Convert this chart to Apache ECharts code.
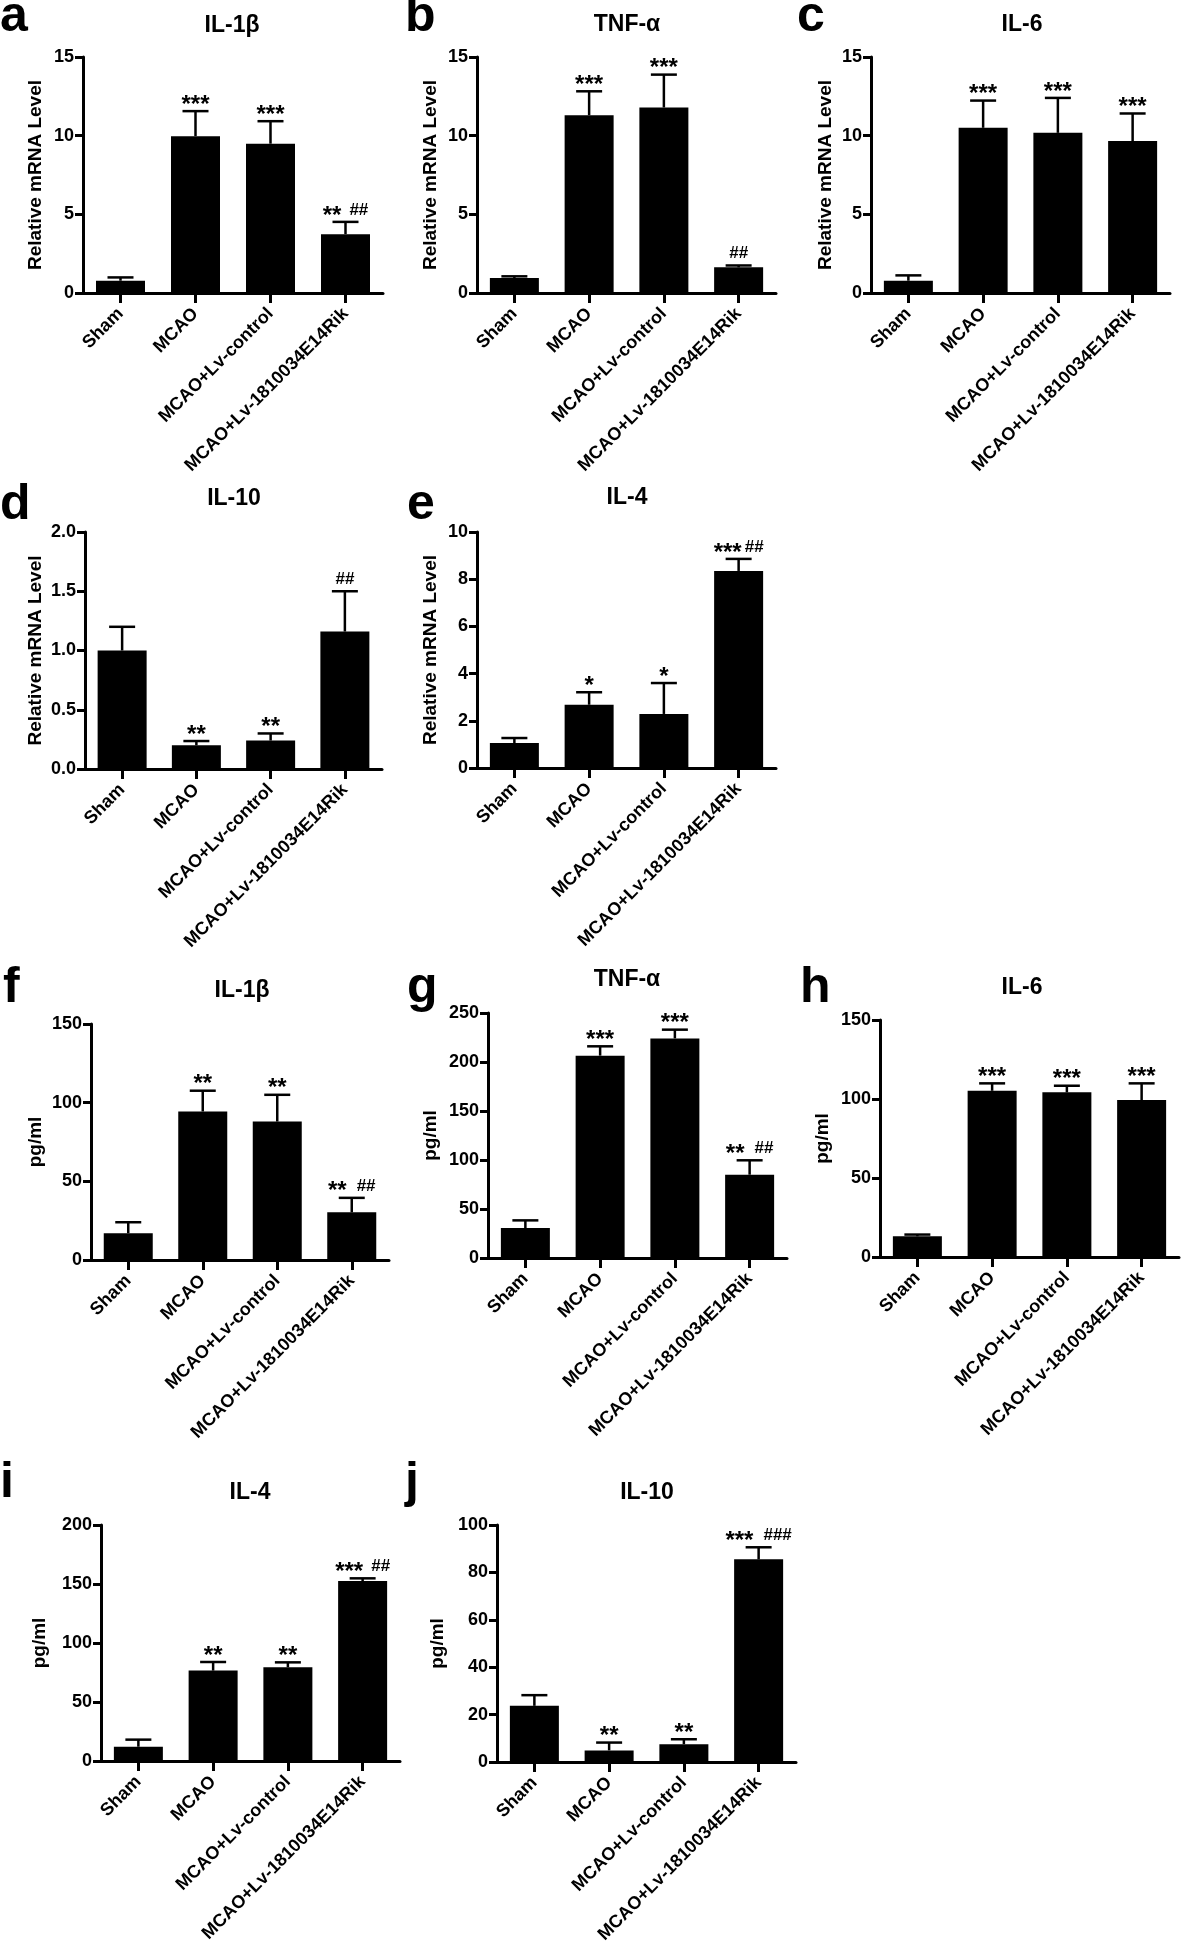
<!DOCTYPE html>
<html>
<head>
<meta charset="utf-8">
<script src="https://cdn.jsdelivr.net/npm/echarts@6/dist/echarts.min.js"></script>
<style>
html,body{margin:0;padding:0;background:#fff;}
#chart{width:1181px;height:1941px;}
</style>
</head>
<body>
<div id="chart"></div>
<script>
// ---------- DATA ----------
const categories = ['Sham', 'MCAO', 'MCAO+Lv-control', 'MCAO+Lv-1810034E14Rik'];
const panelLetters = ['a', 'b', 'c', 'd', 'e', 'f', 'g', 'h', 'i', 'j'];
const panelTitles = ['IL-1β', 'TNF-α', 'IL-6', 'IL-10', 'IL-4', 'IL-1β', 'TNF-α', 'IL-6', 'IL-4', 'IL-10'];
const yAxisNames = ['Relative mRNA Level', 'Relative mRNA Level', 'Relative mRNA Level', 'Relative mRNA Level', 'Relative mRNA Level',
                    'pg/ml', 'pg/ml', 'pg/ml', 'pg/ml', 'pg/ml'];
const yMax  = [15, 15, 15, 2.0, 10, 150, 250, 150, 200, 100];
const yStep = [5, 5, 5, 0.5, 2, 50, 50, 50, 50, 20];
const yDecimals = [0, 0, 0, 1, 0, 0, 0, 0, 0, 0];

// a: IL-1β mRNA
const meanA = [0.78, 9.97, 9.49, 3.74];
const errA  = [0.21, 1.59, 1.43, 0.78];
const starsA = ['', '***', '***', '**'];
const hashA  = ['', '', '', '##'];
// b: TNF-α mRNA
const meanB = [0.95, 11.3, 11.79, 1.63];
const errB  = [0.11, 1.52, 2.09, 0.12];
const starsB = ['', '***', '***', ''];
const hashB  = ['', '', '', '##'];
// c: IL-6 mRNA
const meanC = [0.78, 10.5, 10.18, 9.66];
const errC  = [0.34, 1.73, 2.22, 1.75];
const starsC = ['', '***', '***', '***'];
const hashC  = ['', '', '', ''];
// d: IL-10 mRNA
const meanD = [1.0, 0.2, 0.24, 1.16];
const errD  = [0.2, 0.036, 0.06, 0.34];
const starsD = ['', '**', '**', ''];
const hashD  = ['', '', '', '##'];
// e: IL-4 mRNA
const meanE = [1.06, 2.68, 2.29, 8.35];
const errE  = [0.21, 0.53, 1.31, 0.51];
const starsE = ['', '*', '*', '***'];
const hashE  = ['', '', '', '##'];
// f: IL-1β pg/ml
const meanF = [17.0, 94.4, 88.0, 30.3];
const errF  = [7.0, 13.2, 17.0, 9.2];
const starsF = ['', '**', '**', '**'];
const hashF  = ['', '', '', '##'];
// g: TNF-α pg/ml
const meanG = [30.6, 206.5, 224.1, 85.0];
const errG  = [7.8, 9.5, 8.9, 14.7];
const starsG = ['', '***', '***', '**'];
const hashG  = ['', '', '', '##'];
// h: IL-6 pg/ml
const meanH = [13.1, 105.2, 104.2, 99.3];
const errH  = [1.1, 4.7, 4.2, 10.6];
const starsH = ['', '***', '***', '***'];
const hashH  = ['', '', '', ''];
// i: IL-4 pg/ml
const meanI = [12.1, 76.6, 79.4, 152.5];
const errI  = [6.0, 7.3, 4.2, 2.3];
const starsI = ['', '**', '**', '***'];
const hashI  = ['', '', '', '##'];
// j: IL-10 pg/ml
const meanJ = [23.7, 4.9, 7.5, 85.5];
const errJ  = [4.5, 3.3, 2.1, 5.1];
const starsJ = ['', '**', '**', '***'];
const hashJ  = ['', '', '', '###'];

const means  = [meanA, meanB, meanC, meanD, meanE, meanF, meanG, meanH, meanI, meanJ];
const errs   = [errA, errB, errC, errD, errE, errF, errG, errH, errI, errJ];
const starsL = [starsA, starsB, starsC, starsD, starsE, starsF, starsG, starsH, starsI, starsJ];
const hashL  = [hashA, hashB, hashC, hashD, hashE, hashF, hashG, hashH, hashI, hashJ];

// ---------- LAYOUT ----------
const gridBox = [
  [83, 57, 300, 236], [477, 57, 299, 236], [871, 57, 299, 236],
  [85, 532, 297, 237], [477, 532, 299, 236],
  [91, 1024, 298, 236], [488, 1013, 299, 245], [880, 1020, 299, 237],
  [101, 1525, 299, 236], [497, 1525, 299, 237]
];
const nameGaps = [38, 37, 36, 40, 37, 46, 48, 48, 52, 50];
const sigGaps = [8, 8, 8, 8, 3, 10, 10, 10, 8, 10];
const titlePos = [[232, 34], [627, 33], [1022, 33], [234, 507], [627, 506], [242, 999], [627, 988], [1022, 996], [250, 1501], [647, 1501]];
const letterPos = [[0, 35], [405, 35], [797, 35], [0, 523], [407, 523], [3, 1006], [407, 1006], [800, 1006], [0, 1501], [405, 1501]];

const FONT = "'Liberation Sans', Arial, Helvetica, sans-serif";
const STAR_SIZE = 24, HASH_SIZE = 17;
const STAR_W = 0.389 * STAR_SIZE, HASH_W = 0.556 * HASH_SIZE;

function makeRender(stars, hashes, gapPx) {
  return function (params, api) {
    const i = params.dataIndex;
    const idx = api.value(0), m = api.value(1), e = api.value(2);
    const p0 = api.coord([idx, m]);
    const p1 = api.coord([idx, m + e]);
    const capHalf = 13;
    const children = [
      { type: 'line', shape: { x1: p0[0], y1: p0[1], x2: p1[0], y2: p1[1] }, style: { stroke: '#000', lineWidth: 2.5 } },
      { type: 'line', shape: { x1: p1[0] - capHalf, y1: p1[1], x2: p1[0] + capHalf, y2: p1[1] }, style: { stroke: '#000', lineWidth: 2.5 } }
    ];
    const s = stars[i], h = hashes[i];
    const ws = s.length * STAR_W, wh = h.length * HASH_W;
    const gap = (s && h) ? gapPx : 0;
    const x0 = p1[0] - (ws + gap + wh) / 2;
    if (s) children.push({ type: 'text', x: x0, y: p1[1] - 6,
      style: { text: s, font: 'bold ' + STAR_SIZE + 'px ' + FONT, fill: '#000', align: 'left', verticalAlign: 'middle', textAlign: 'left', textVerticalAlign: 'middle' } });
    if (h) children.push({ type: 'text', x: x0 + ws + gap, y: p1[1] - 12,
      style: { text: h, font: 'bold ' + HASH_SIZE + 'px ' + FONT, fill: '#000', align: 'left', verticalAlign: 'middle', textAlign: 'left', textVerticalAlign: 'middle' } });
    return { type: 'group', children: children };
  };
}

const grids = [], xAxes = [], yAxes = [], series = [], graphics = [];
for (let k = 0; k < 10; k++) {
  const b = gridBox[k];
  grids.push({ left: b[0], top: b[1], width: b[2], height: b[3], containLabel: false, outerBoundsMode: 'none' });
  xAxes.push({
    type: 'category', gridIndex: k, data: categories,
    axisLine: { show: true, lineStyle: { color: '#000', width: 3 } },
    axisTick: { show: true, alignWithLabel: true, length: 10, lineStyle: { color: '#000', width: 3 } },
    axisLabel: { interval: 0, rotate: 45, margin: 18, color: '#000', fontSize: 18, fontWeight: 'bold', fontFamily: FONT },
    splitLine: { show: false }
  });
  const dec = yDecimals[k];
  yAxes.push({
    type: 'value', gridIndex: k, min: 0, max: yMax[k], interval: yStep[k],
    name: yAxisNames[k], nameLocation: 'middle', nameGap: nameGaps[k], nameMoveOverlap: false,
    nameTextStyle: { color: '#000', fontSize: 19, fontWeight: 'bold', fontFamily: FONT },
    axisLine: { show: true, lineStyle: { color: '#000', width: 3 } },
    axisTick: { show: true, length: 8, lineStyle: { color: '#000', width: 3 } },
    axisLabel: { margin: 9, color: '#000', fontSize: 18, fontWeight: 'bold', fontFamily: FONT,
      formatter: function (v) { return v.toFixed(dec); } },
    splitLine: { show: false }
  });
  series.push({
    type: 'bar', xAxisIndex: k, yAxisIndex: k, data: means[k], barWidth: 49,
    itemStyle: { color: '#000' }, silent: true, animation: false
  });
  series.push({
    type: 'custom', xAxisIndex: k, yAxisIndex: k, clip: false, z: 5, animation: false, silent: true,
    data: means[k].map(function (m, i) { return [i, m, errs[k][i]]; }),
    encode: { x: 0, y: 1 },
    renderItem: makeRender(starsL[k], hashL[k], sigGaps[k])
  });
  graphics.push({ type: 'text', x: titlePos[k][0], y: titlePos[k][1] + 3.5,
    style: { text: panelTitles[k], font: 'bold 23px ' + FONT, fill: '#000', align: 'center', verticalAlign: 'bottom', textAlign: 'center', textVerticalAlign: 'bottom' } });
  graphics.push({ type: 'text', x: letterPos[k][0], y: letterPos[k][1] + 7.5,
    style: { text: panelLetters[k], font: 'bold 50px ' + FONT, fill: '#000', align: 'left', verticalAlign: 'bottom', textAlign: 'left', textVerticalAlign: 'bottom' } });
}

const chart = echarts.init(document.getElementById('chart'), null, { renderer: 'canvas' });
chart.setOption({
  backgroundColor: '#fff',
  animation: false,
  grid: grids, xAxis: xAxes, yAxis: yAxes, series: series,
  graphic: graphics
});
</script>
</body>
</html>
